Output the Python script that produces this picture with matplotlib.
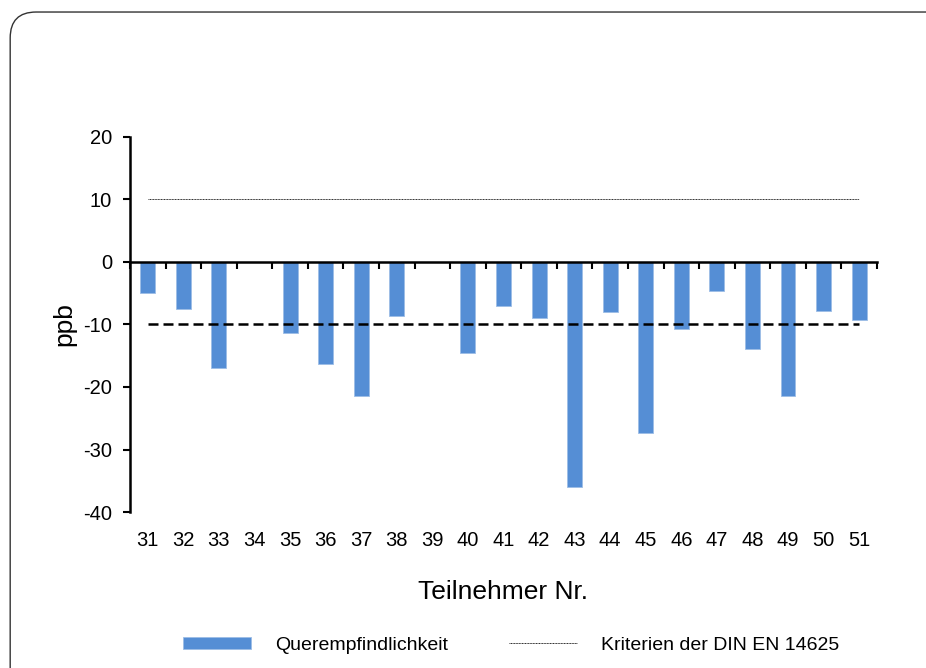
import matplotlib.pyplot as plt
from matplotlib.patches import FancyBboxPatch, Patch
from matplotlib.lines import Line2D

plt.rcParams['font.family'] = ['Liberation Sans', 'DejaVu Sans']
plt.rcParams['axes.unicode_minus'] = False

# Teilnehmer und gemessene Querempfindlichkeit (ppb)
teilnehmer = list(range(31, 52))
quer = [-5.0, -7.6, -16.9, None, -11.3, -16.4, -21.5, -8.6, None, -14.6, -7.1,
        -9.0, -36.0, -8.0, -27.4, -10.7, -4.7, -14.0, -21.4, -7.8, -9.3]
krit_oben = [10] * len(teilnehmer)
krit_unten = [-10] * len(teilnehmer)

fig = plt.figure(figsize=(9.26, 6.68), dpi=100)
ax = fig.add_axes([0.1404, 0.2335, 0.8066, 0.5615])

# abgerundeter Rahmen um das Diagramm
rahmen = FancyBboxPatch((0.011, -0.05), 1.05, 1.032, boxstyle="round,pad=0,rounding_size=0.028",
                        transform=fig.transFigure, fill=False, edgecolor='#333333',
                        linewidth=1.0, clip_on=False, mutation_aspect=926 / 668)
fig.patches.append(rahmen)

x_bar = [t for t, q in zip(teilnehmer, quer) if q is not None]
y_bar = [q for q in quer if q is not None]
ax.bar(x_bar, y_bar, width=0.42, color='#558ED5', edgecolor='#9DBDE6', linewidth=0.6, zorder=2)

ax.plot(teilnehmer, krit_oben, color='#222222', linestyle=(0, (1, 0.6)), linewidth=0.7, zorder=1)
ax.plot(teilnehmer, krit_unten, color='black', linestyle=(0, (4, 2)), linewidth=1.8, zorder=3)

ax.set_xlim(30.5, 51.5)
ax.set_ylim(-40, 20)
ax.set_yticks(range(-40, 21, 10))
ax.tick_params(axis='y', direction='out', length=5, width=1.5, labelsize=14.5, pad=8)

# Achse bei 0 mit Teilstrichen zwischen den Kategorien
ax.spines['bottom'].set_position(('data', 0))
ax.spines['bottom'].set_linewidth(1.8)
ax.spines['left'].set_linewidth(1.8)
ax.spines['top'].set_visible(False)
ax.spines['right'].set_visible(False)
ax.set_xticks([t + 0.5 for t in [30] + teilnehmer])
ax.tick_params(axis='x', direction='out', length=5, width=1.5, labelbottom=False)

# Kategoriebeschriftung unterhalb der Grafik
sec = ax.secondary_xaxis('bottom')
sec.set_xticks(teilnehmer)
sec.set_xticklabels([str(t) for t in teilnehmer])
sec.tick_params(length=0, labelsize=14.5, pad=14)
sec.spines['bottom'].set_visible(False)
sec.set_xlabel('Teilnehmer Nr.', fontsize=19, labelpad=21)

ax.set_ylabel('ppb', fontsize=19, labelpad=5)

handles = [Patch(facecolor='#558ED5', edgecolor='#9DBDE6', linewidth=0.6),
           Line2D([], [], color='#222222', linestyle=(0, (1, 0.6)), linewidth=0.7)]
fig.legend(handles, ['Querempfindlichkeit', 'Kriterien der DIN EN 14625'],
           loc='center', bbox_to_anchor=(0.552, 0.034), ncol=2, frameon=False,
           fontsize=14, handlelength=3.5, handleheight=0.57, handletextpad=1.23,
           columnspacing=3.1)

fig.savefig('out.png', dpi=100, facecolor='white')
